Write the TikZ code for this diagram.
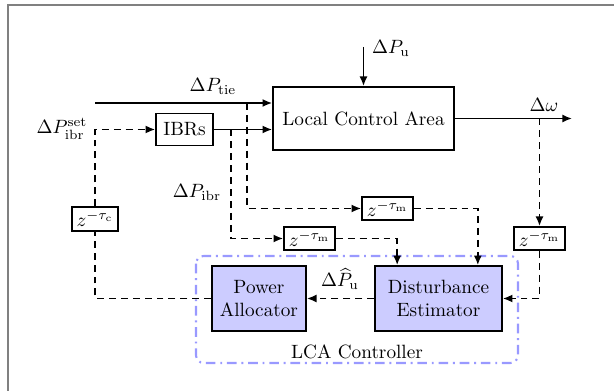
\documentclass[tikz,border=0pt]{standalone}
\usetikzlibrary{arrows.meta,calc}
\begin{document}
\begin{tikzpicture}[x=0.52pt,y=-0.52pt,
  line width=0.9pt,
  >={Latex[length=5pt,width=4.2pt]},
  blk/.style={draw,line width=0.9pt,inner sep=1pt,align=center},
  ctl/.style={blk,fill=blue!20},
  dly/.style={draw,line width=0.9pt,inner sep=1pt,minimum width=26.5pt,minimum height=12pt},
  sig/.style={dash pattern=on 3.6pt off 2.6pt},
  lbl/.style={inner sep=0pt}]
\useasboundingbox (0,0) rectangle (614,391);
\draw[gray,line width=0.7pt] (8,391) -- (8,5) -- (614,5);

% blocks
\node[blk,minimum width=94.1pt,minimum height=32.8pt] (LCA) at (363.5,118.5) {Local Control Area};
\node[blk,minimum width=29.6pt,minimum height=16.6pt] (IBR) at (184.5,129.5) {IBRs};
\node[dly,minimum width=23.9pt,minimum height=12.5pt] (zc) at (95,219) {$z^{-\tau_\mathrm{c}}$};
\node[dly] (zm1) at (387.5,208.5) {$z^{-\tau_\mathrm{m}}$};
\node[dly] (zm2) at (309.5,238.5) {$z^{-\tau_\mathrm{m}}$};
\node[dly] (zm3) at (539.5,238.5) {$z^{-\tau_\mathrm{m}}$};
\node[ctl,minimum width=48.9pt,minimum height=33.8pt] (PA) at (259,298.5) {Power\\Allocator};
\node[ctl,minimum width=66pt,minimum height=33.8pt] (DE) at (438.5,298.5) {Disturbance\\Estimator};
\draw[blue!40,line width=1.1pt,dash pattern=on 5pt off 2.5pt on 1pt off 2.5pt,rounded corners=4pt] (196,256) rectangle (518,363);
\node[lbl] (ctlname) at (357,352) {LCA Controller};

% labels
\node[lbl] (lpu) at (391,48) {$\Delta P_\mathrm{u}$};
\node[lbl] (ltie) at (213,86) {$\Delta P_\mathrm{tie}$};
\node[lbl] (lset) at (62,129) {$\Delta P_\mathrm{ibr}^\mathrm{set}$};
\node[lbl] (libr) at (197,192) {$\Delta P_\mathrm{ibr}$};
\node[lbl] (lw) at (544,105) {$\Delta\omega$};
\node[lbl] (lhat) at (340,279) {$\Delta\widehat{P}_\mathrm{u}$};

% free ends and taps
\coordinate (pu) at (363.5,47);
\coordinate (tieS) at (95,103);
\coordinate (wE) at (572,118.5);
\coordinate (t1) at (247,103);
\coordinate (t2) at (231,129.5);
\coordinate (w1) at (zm3.north |- LCA.east);
\coordinate (de1) at ($(DE.north east)+(-25,0)$);
\coordinate (de2) at ($(DE.north west)+(23,0)$);

% solid connectors
\draw[->] (pu) -- (LCA.north);
\draw[->] (tieS) -- (LCA.west |- tieS);
\draw[->] (IBR.east) -- (IBR.east -| LCA.west);
\draw[->] (LCA.east) -- (wE);

% dashed connectors
\draw[sig] (PA.west) -| (zc.south);
\draw[sig,->] (zc.north) |- (IBR.west);
\draw[sig,->] (t1) |- (zm1.west);
\draw[sig,->] (zm1.east) -| (de1);
\draw[sig,->] (t2) |- (zm2.west);
\draw[sig,->] (zm2.east) -| (de2);
\draw[sig,->] (w1) -- (zm3.north);
\draw[sig,->] (zm3.south) |- (DE.east);
\draw[sig,->] (DE.west) -- (PA.east);
\end{tikzpicture}
\end{document}
